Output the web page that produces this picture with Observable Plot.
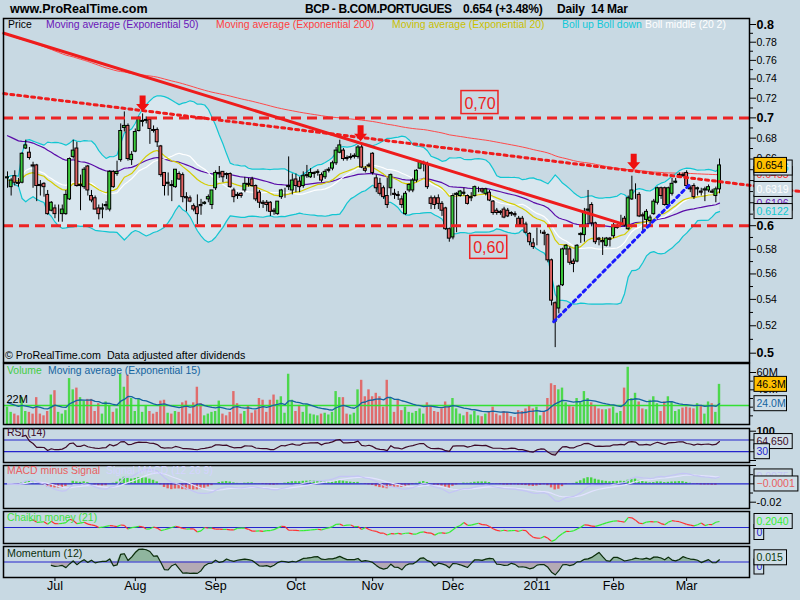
<!DOCTYPE html>
<html><head><meta charset="utf-8">
<script src="https://cdn.jsdelivr.net/npm/d3@7"></script>
<script src="https://cdn.jsdelivr.net/npm/@observablehq/plot@0.6"></script>
<style>
body{margin:0;background:#c8d9e3;}
#c{position:relative;width:800px;height:600px;overflow:hidden;background:#c8d9e3;font-family:"Liberation Sans",Arial,sans-serif;}
#c svg{position:absolute;left:0;overflow:visible;}
.t{position:absolute;white-space:pre;line-height:1;transform:translateY(-50%);z-index:5;}
</style></head><body><div id="c"></div>
<script>
// ---------- DATA ----------
const open = [
.642,.634,.644,.638,.638,.670,.666,.654,.654,.636,
.637,.627,.613,.615,.611,.610,.610,.623,.662,.670,
.635,.634,.653,.626,.624,.615,.614,.617,.614,.648,
.646,.659,.690,.692,.659,.667,.687,.696,.697,.698,
.688,.688,.672,.647,.637,.636,.634,.646,.645,.625,
.624,.617,.616,.618,.619,.623,.618,.633,.646,.648,
.646,.646,.631,.627,.628,.631,.637,.641,.635,.629,
.620,.620,.620,.613,.610,.625,.629,.634,.631,.641,
.639,.635,.644,.643,.646,.647,.645,.643,.649,.651,
.656,.666,.668,.661,.661,.662,.662,.671,.651,.654,
.665,.642,.637,.633,.626,.633,.628,.627,.623,.610,
.631,.631,.640,.651,.655,.655,.624,.624,.624,.619,
.615,.597,.590,.627,.626,.628,.626,.624,.626,.632,
.632,.628,.629,.621,.613,.612,.614,.613,.611,.610,
.606,.606,.601,.593,.585,.590,.594,.594,.592,.571,
.537,.533,.551,.580,.580,.570,.570,.592,.592,.613,
.618,.602,.589,.587,.583,.589,.591,.598,.603,.606,
.597,.623,.628,.627,.609,.605,.604,.610,.620,.633,
.633,.618,.628,.638,.644,.645,.647,.633,.635,.632,
.630,.631,.631,.630,.626,.632];
const high = [
.648,.642,.649,.642,.666,.678,.671,.657,.655,.640,
.638,.631,.621,.618,.618,.618,.631,.661,.678,.676,
.645,.652,.654,.631,.626,.618,.619,.621,.649,.649,
.658,.694,.706,.694,.667,.689,.701,.704,.701,.699,
.692,.690,.673,.647,.647,.640,.650,.648,.647,.629,
.626,.619,.627,.623,.621,.627,.631,.649,.653,.648,
.647,.647,.633,.629,.629,.643,.642,.643,.636,.631,
.622,.622,.621,.615,.621,.632,.633,.662,.646,.646,
.643,.648,.654,.651,.648,.650,.647,.650,.652,.658,
.671,.678,.670,.663,.665,.665,.673,.673,.653,.656,
.666,.645,.642,.635,.642,.646,.632,.630,.626,.630,
.637,.642,.650,.658,.658,.657,.626,.626,.627,.621,
.616,.598,.628,.629,.631,.633,.627,.629,.635,.634,
.633,.633,.631,.622,.615,.613,.616,.615,.612,.612,
.608,.608,.603,.594,.589,.598,.596,.596,.593,.572,
.538,.551,.581,.584,.582,.572,.584,.594,.615,.631,
.620,.603,.590,.590,.590,.590,.602,.601,.609,.608,
.626,.644,.637,.629,.611,.614,.609,.623,.634,.634,
.634,.634,.642,.642,.647,.647,.649,.635,.637,.634,
.633,.634,.636,.632,.634,.660];
const low = [
.633,.626,.635,.634,.637,.669,.659,.633,.621,.626,
.625,.609,.612,.606,.603,.603,.609,.622,.660,.634,
.613,.632,.626,.620,.614,.605,.606,.613,.612,.633,
.644,.657,.686,.658,.654,.666,.686,.691,.694,.674,
.685,.671,.643,.626,.626,.621,.633,.640,.620,.612,
.620,.612,.601,.609,.618,.620,.614,.631,.642,.638,
.641,.633,.620,.623,.624,.629,.634,.634,.621,.615,
.615,.612,.608,.609,.609,.623,.624,.631,.627,.629,
.629,.633,.642,.642,.642,.644,.638,.641,.647,.649,
.654,.665,.658,.658,.659,.660,.660,.651,.647,.652,
.645,.629,.626,.623,.615,.626,.623,.622,.615,.609,
.629,.629,.638,.650,.648,.632,.614,.614,.614,.608,
.596,.586,.588,.594,.625,.626,.618,.621,.625,.629,
.628,.626,.621,.609,.609,.609,.606,.607,.608,.607,
.599,.599,.593,.583,.580,.583,.593,.583,.569,.535,
.504,.529,.550,.575,.567,.561,.569,.585,.586,.600,
.599,.584,.583,.575,.582,.582,.589,.597,.599,.599,
.596,.622,.623,.607,.594,.598,.601,.609,.618,.623,
.617,.618,.626,.637,.643,.643,.634,.629,.623,.626,
.626,.621,.629,.628,.620,.628];
const close = [
.643,.640,.638,.637,.665,.673,.661,.653,.635,.635,
.634,.610,.620,.610,.611,.614,.627,.660,.668,.635,
.636,.650,.631,.622,.614,.610,.615,.618,.648,.634,
.648,.687,.692,.660,.664,.686,.700,.697,.698,.689,
.687,.676,.645,.635,.638,.635,.650,.641,.625,.624,
.621,.614,.610,.617,.620,.625,.631,.647,.647,.643,
.645,.634,.625,.626,.626,.637,.636,.635,.623,.620,
.619,.618,.612,.612,.621,.631,.629,.635,.640,.635,
.634,.644,.645,.647,.647,.648,.640,.648,.650,.656,
.668,.673,.660,.660,.662,.663,.671,.652,.649,.653,
.647,.633,.628,.625,.618,.645,.627,.626,.618,.628,
.636,.640,.649,.657,.656,.634,.619,.618,.619,.613,
.597,.589,.626,.628,.630,.629,.619,.625,.634,.632,
.630,.632,.622,.611,.611,.611,.607,.608,.610,.609,
.600,.600,.594,.586,.582,.590,.594,.593,.571,.539,
.523,.550,.580,.583,.569,.568,.583,.593,.612,.614,
.602,.586,.588,.586,.589,.588,.600,.599,.603,.600,
.624,.631,.628,.608,.608,.612,.607,.621,.633,.626,
.618,.633,.637,.639,.645,.644,.635,.632,.625,.633,
.629,.632,.634,.629,.632,.654];
// volume in millions of shares
const volumeM = [
20,14,12,10,31,15,14,12,31,12,
10,15,34,39,14,12,16,53,40,42,
31,27,29,29,15,24,12,26,22,14,
18,58,43,57,30,15,29,14,22,15,
12,14,27,28,13,12,15,14,25,27,
12,25,43,24,10,12,14,15,27,12,
10,14,38,24,12,15,21,13,16,30,
28,14,28,34,28,32,13,58,28,15,
22,14,23,12,11,10,12,13,11,14,
38,31,31,12,11,13,40,51,32,40,
32,36,32,20,51,31,14,29,16,20,
14,13,15,18,12,25,22,15,14,18,
26,22,30,18,12,10,14,11,15,10,
9,12,14,20,12,10,15,14,9,8,
16,15,18,22,18,20,10,14,30,47,
45,40,42,25,22,20,30,25,38,30,
25,22,18,17,17,18,20,13,15,42,
66,30,36,26,18,17,28,32,24,15,
26,32,26,15,17,19,20,19,18,24,
22,12,26,24,14,46.3];
const monthLabels = ["Jul","Aug","Sep","Oct","Nov","Dec","2011","Feb","Mar"];
const monthStartIdx = [13,35,57,79,100,122,145,166,186];
const priceTicks = [0.52,0.54,0.56,0.58,0.62,0.64,0.66,0.68,0.72,0.74,0.76,0.78];
const priceLabelTicks = [0.52,0.54,0.56,0.58,0.66,0.68,0.72,0.74,0.76,0.78];
const priceTickLabels = ["0.52","0.54","0.56","0.58","0.66","0.68","0.72","0.74","0.76","0.78"];
const priceMajorTicks = [0.5,0.6,0.7,0.8];
const priceMajorLabels = ["0.5","0.6","0.7","0.8"];
const priceMinorTicks = [0.51,0.53,0.55,0.57,0.59,0.61,0.63,0.65,0.67,0.69,0.71,0.73,0.75,0.77,0.79];
const levels = [0.6, 0.7];
const levelBoxes = [{i:129.4, p:0.7155, s:"0,70"}, {i:131.8, p:0.5817, s:"0,60"}];
const arrows = [{i:37, p:0.7064}, {i:96.7, p:0.677}, {i:171.5, p:0.650}];
const trendDown = [{i:-1, p:0.790}, {i:168.4, p:0.6016}];
const trendDotRed = [{i:-1, p:0.7248}, {i:217.2, p:0.630}];
const trendDotBlue = [{i:149.6, p:0.523}, {i:186.8, p:0.6363}];
// indicator starting levels read at the left edge
const seedEma20 = 0.640, seedEma50 = 0.684, seedEma200 = 0.790, seedVolEma = 26;
const volumeLevel = [22];

// ---------- INDICATORS ----------
const N = close.length, LAST = N - 1;
const bars = close.map((c, i) => ({i, o: open[i], h: high[i], l: low[i], c, v: volumeM[i], up: c >= open[i]}));
function ema(a, n, seed) { const k = 2 / (n + 1); let e = seed; return a.map(v => (e = e + k * (v - e))); }
const ema20 = ema(close, 20, seedEma20), ema50 = ema(close, 50, seedEma50), ema200 = ema(close, 200, seedEma200);
const bbMid = [], bbUp = [], bbLo = [];
for (let i = 0; i < N; i++) {
  const w = close.slice(Math.max(0, i - 19), i + 1), m = d3.mean(w), sd = Math.sqrt(d3.mean(w, v => (v - m) ** 2));
  bbMid.push(m); bbUp.push(m + 2 * sd); bbLo.push(m - 2 * sd);
}
const volEma = ema(volumeM, 15, seedVolEma);
const rsi = [50]; { let ag = 0, al = 0;
  for (let i = 1; i < N; i++) { const ch = close[i] - close[i - 1], g = Math.max(ch, 0), l = Math.max(-ch, 0);
    if (i <= 14) { ag = (ag * (i - 1) + g) / i; al = (al * (i - 1) + l) / i; } else { ag = (ag * 13 + g) / 14; al = (al * 13 + l) / 14; }
    rsi.push(al === 0 ? 100 : 100 - 100 / (1 + ag / al)); } }
const e12 = ema(close, 12, close[0]), e26 = ema(close, 26, close[0]);
const macd = e12.map((v, i) => v - e26[i]);
const signal = ema(macd, 9, 0);
const hist = macd.map((v, i) => v - signal[i]);
const mfv = bars.map(d => d.h > d.l ? ((d.c - d.l) - (d.h - d.c)) / (d.h - d.l) * d.v : 0);
const cmf = bars.map((d, i) => d3.sum(mfv.slice(Math.max(0, i - 20), i + 1)) / d3.sum(volumeM.slice(Math.max(0, i - 20), i + 1)));
const mom = bars.map((d, i) => i >= 12 ? close[i] - close[i - 12] : null);

const rsiD = bars.filter(d => d.i >= 4).map(d => ({i: d.i, r: rsi[d.i]}));
const cmfD = bars.filter(d => d.i >= 6).map(d => ({i: d.i, m: cmf[d.i]}));
const cmfSeg = cmfD.slice(1).map((d, k) => ({x1: cmfD[k].i, y1: cmfD[k].m, x2: d.i, y2: d.m, col: d.m >= cmfD[k].m ? "#33ee33" : "#ff3030"}));
const momD = bars.filter(d => d.i >= 12).map(d => ({i: d.i, m: mom[d.i]}));
const cmfMax = d3.max(cmfD, d => Math.abs(d.m)) * 1.08;
const momMax = d3.max(momD, d => Math.abs(d.m)) * 1.05;

// ---------- LAYOUT ----------
const root = document.getElementById("c");
const FONT = "Liberation Sans, Arial, sans-serif";
const GREEN = "#3ccc3c", RED = "#e06262", BLUE = "#2424cc", BOXFILL = "#cfdee7";
const blank = () => "";
function panel(top, height, y, marks, mb = 1) {
  const svg = Plot.plot({
    width: 800, height, marginLeft: 3, marginRight: 51, marginTop: 1, marginBottom: mb,
    x: {domain: [0, LAST], range: [7, 719], axis: null},
    y: {...y, axis: null}, color: {type: "identity"},
    style: {background: "none", fontFamily: FONT, fontSize: "10px", overflow: "visible"},
    marks: [...marks, Plot.frame({stroke: "black", strokeWidth: 1.5})]
  });
  svg.style.top = top + "px";
  root.append(svg);
}
function box(v, s, color, fill = BOXFILL, dy = 0) {
  const w = s.length * 5.7 + 4;
  return [
    Plot.rect([v], {x1: () => LAST, x2: () => LAST, y1: d => d, y2: d => d, insetLeft: 35, insetRight: -(35 + w), insetTop: -7.5, insetBottom: -7.5, dy, fill, stroke: "black", strokeWidth: 1}),
    Plot.text([v], {x: () => LAST, y: d => d, dx: 37, dy, text: () => s, textAnchor: "start", fill: color, fontSize: 10.5})
  ];
}
const f4 = d3.format(".4f");
const arrowSymbol = {draw(ctx) { ctx.moveTo(0, 0); ctx.lineTo(-6.5, -7.5); ctx.lineTo(-3, -7.5); ctx.lineTo(-3, -16); ctx.lineTo(3, -16); ctx.lineTo(3, -7.5); ctx.lineTo(6.5, -7.5); ctx.closePath(); }};

// main price panel
panel(17, 346, {type: "log", domain: [0.5, 0.8], range: [335.7, 7]}, [
  Plot.areaY(bars, {x: "i", y1: d => bbLo[d.i], y2: d => bbUp[d.i], fill: "#d8e6ee"}),
  Plot.line(bars, {x: "i", y: d => ema200[d.i], stroke: "#ff4a4a", strokeWidth: 1}),
  Plot.line(bars, {x: "i", y: d => bbUp[d.i], stroke: "#12c6d2", strokeWidth: 1.2}),
  Plot.line(bars, {x: "i", y: d => bbLo[d.i], stroke: "#12c6d2", strokeWidth: 1.2}),
  Plot.line(bars, {x: "i", y: d => ema50[d.i], stroke: "#5a0ca8", strokeWidth: 1.2}),
  Plot.line(bars, {x: "i", y: d => bbMid[d.i], stroke: "white", strokeWidth: 1.2}),
  Plot.line(bars, {x: "i", y: d => ema20[d.i], stroke: "#d4cc00", strokeWidth: 1.2}),
  Plot.ruleX(bars, {x: "i", y1: "l", y2: "h", stroke: "black", strokeWidth: 1}),
  Plot.rect(bars, {x1: d => d.i - 0.4, x2: d => d.i + 0.4, y1: "o", y2: "c", fill: d => d.up ? GREEN : RED, stroke: "black", strokeWidth: 1}),
  Plot.ruleY(levels, {stroke: "#ec2424", strokeWidth: 3, strokeDasharray: "10,6"}),
  Plot.line(trendDown, {x: "i", y: "p", stroke: "#ee1c1c", strokeWidth: 3}),
  Plot.line(trendDotRed, {x: "i", y: "p", stroke: "#ee1c1c", strokeWidth: 3, strokeDasharray: "3,4"}),
  Plot.line(trendDotBlue, {x: "i", y: "p", stroke: "#1a1aff", strokeWidth: 3, strokeDasharray: "3,4"}),
  Plot.dot(arrows, {x: "i", y: "p", symbol: arrowSymbol, fill: "#ee1111", stroke: "none"}),
  Plot.rect(levelBoxes, {x1: "i", x2: "i", y1: "p", y2: "p", insetLeft: -18.5, insetRight: -18.5, insetTop: -11.5, insetBottom: -11.5, fill: "none", stroke: "#ee2222", strokeWidth: 1.5}),
  Plot.text(levelBoxes, {x: "i", y: "p", text: "s", fill: "#ee2222", fontSize: 16, dy: 1}),
  Plot.axisY({anchor: "right", ticks: priceMinorTicks, tickSize: 3, tickFormat: blank, label: null}),
  Plot.axisY({anchor: "right", ticks: [...priceTicks, ...priceMajorTicks], tickSize: 6, tickFormat: blank, label: null}),
  Plot.text(priceLabelTicks, {y: d => d, frameAnchor: "right", dx: 7, textAnchor: "start", text: (d, k) => priceTickLabels[k], fontSize: 10.5, fill: "black"}),
  Plot.text(priceMajorTicks, {y: d => d, frameAnchor: "right", dx: 7, textAnchor: "start", text: (d, k) => priceMajorLabels[k], fontSize: 12.5, fontWeight: "bold", fill: "black"}),
  ...box(ema200[LAST], f4(ema200[LAST]), "#ff3030"),
  ...box(bbUp[LAST], f4(bbUp[LAST]), "#10c8d0"),
  ...box(ema50[LAST], f4(ema50[LAST]), "#6a14b8"),
  ...box(bbLo[LAST], f4(bbLo[LAST]), "#10c8d0"),
  ...box(bbMid[LAST], f4(bbMid[LAST]), "white"),
  ...box(close[LAST], String(close[LAST]), "black", "#ffc000")
]);

// volume panel
panel(362, 64, {domain: [0, 60], range: [62, 10]}, [
  Plot.rectY(bars, {x1: d => d.i - 0.33, x2: d => d.i + 0.33, y: "v", fill: d => d.up ? "#4cd84c" : "#e06c6c"}),
  Plot.ruleY(volumeLevel, {stroke: "#33e033", strokeWidth: 1.5}),
  Plot.line(bars, {x: "i", y: d => volEma[d.i], stroke: "#1464a0", strokeWidth: 1.3}),
  Plot.text(volumeLevel, {y: d => d, frameAnchor: "left", dx: 3, dy: -6, text: d => d + "M", textAnchor: "start", fill: "black", fontSize: 11}),
  Plot.axisY({anchor: "right", ticks: [10, 20, 30, 50], tickSize: 3, tickFormat: blank, label: null}),
  Plot.axisY({anchor: "right", ticks: [40, 60], tickSize: 6, tickPadding: 1, tickFormat: d => d + "M", fontSize: 11, label: null}),
  ...box(volEma[LAST], d3.format(".1f")(volEma[LAST]) + "M", "#1464a0"),
  ...box(volumeM[LAST], d3.format(".1f")(volumeM[LAST]) + "M", "black", "#ffc000")
], 2);

// RSI panel
panel(427, 36, {domain: [0, 100], range: [33, 3.7]}, [
  Plot.ruleY([30, 70], {stroke: BLUE, strokeWidth: 1.2}),
  Plot.areaY(rsiD, {x: "i", y1: () => 30, y2: d => Math.min(30, d.r), fill: "#9a9aa8"}),
  Plot.line(rsiD, {x: "i", y: "r", stroke: "#3c0a28", strokeWidth: 1.2}),
  Plot.axisY({anchor: "right", ticks: [0, 30, 70, 100], tickSize: 6, tickPadding: 1, tickFormat: d => d === 100 ? String(d) : "", fontSize: 11, fontWeight: "bold", label: null}),
  ...box(rsi[LAST], d3.format(".3f")(rsi[LAST]), "#3c0a28"),
  ...box(30, "30", BLUE)
]);

// MACD panel
panel(464, 45, {domain: [-0.02, 0.02], range: [37.7, 1]}, [
  Plot.rectY(bars, {x1: d => d.i - 0.33, x2: d => d.i + 0.33, y: d => hist[d.i], fill: d => hist[d.i] >= 0 ? "#44d444" : "#e86060"}),
  Plot.ruleY([0], {stroke: BLUE, strokeWidth: 1.2}),
  Plot.line(bars, {x: "i", y: d => signal[d.i], stroke: "#e2e2ff", strokeWidth: 1.2}),
  Plot.line(bars, {x: "i", y: d => macd[d.i], stroke: "#c4c4f6", strokeWidth: 1.2}),
  Plot.axisY({anchor: "right", ticks: [-0.01, 0.01], tickSize: 3, tickFormat: blank, label: null}),
  Plot.axisY({anchor: "right", ticks: [-0.02, 0, 0.02], tickSize: 6, tickPadding: 1, tickFormat: d => d === -0.02 ? "-0.02" : "", fontSize: 11, label: null}),
  ...box(macd[LAST], f4(macd[LAST]), "#c4c4f6"),
  ...box(hist[LAST], f4(hist[LAST]), "#e86060")
]);

// Chaikin money flow panel
panel(510, 34, {domain: [-cmfMax, cmfMax], range: [32, 2]}, [
  Plot.ruleY([0], {stroke: BLUE, strokeWidth: 1.2}),
  Plot.link(cmfSeg, {x1: "x1", y1: "y1", x2: "x2", y2: "y2", stroke: "col", strokeWidth: 1.2}),
  ...box(0, "0", BLUE, BOXFILL, 5),
  ...box(cmf[LAST], f4(cmf[LAST]), "#33ee33")
]);

// Momentum panel + date axis
panel(545, 55, {domain: [-momMax, momMax], range: [30, 3]}, [
  Plot.areaY(momD, {x: "i", y: d => Math.max(0, d.m), fill: "#8fb59e"}),
  Plot.areaY(momD, {x: "i", y: d => Math.min(0, d.m), fill: "#b4aab4"}),
  Plot.ruleY([0], {stroke: BLUE, strokeWidth: 1.2}),
  Plot.line(momD, {x: "i", y: "m", stroke: "#0c2c0c", strokeWidth: 1.2}),
  ...box(0, "0", BLUE, BOXFILL, 5),
  ...box(mom[LAST], d3.format(".3f")(mom[LAST]), "#0c3c0c", BOXFILL, -2),
  Plot.axisX({ticks: monthStartIdx, tickSize: 4, tickFormat: blank, label: null}),
  Plot.text(monthStartIdx, {x: d => d, frameAnchor: "bottom", dy: 12, text: (d, k) => monthLabels[k], fontSize: 12.5, fill: "black", fontWeight: (d, k) => monthLabels[k] === "2011" ? "bold" : "normal"})
], 23);

// ---------- TEXT ----------
function label(x, y, s, color, size = 10.4, weight = "normal", spacing = 0) {
  const d = document.createElement("div");
  d.className = "t"; d.textContent = s;
  Object.assign(d.style, {left: x + "px", top: y + "px", color, fontSize: size + "px", fontWeight: weight, letterSpacing: spacing + "px"});
  root.append(d);
}
label(10, 9, "www.ProRealTime.com", "black", 12.5, "bold");
label(305, 9, "BCP - B.COM.PORTUGUES", "black", 12, "bold", -0.4);
label(463, 9, "0.654 (+3.48%)", "black", 12, "bold", -0.2);
label(557, 9, "Daily  14 Mar", "black", 12, "bold", -0.2);
label(8, 25, "Price", "black");
label(46, 25, "Moving average (Exponential 50)", "#6a14b8");
label(216, 25, "Moving average (Exponential 200)", "#ff4040");
label(392, 25, "Moving average (Exponential 20)", "#c8c000");
label(562, 25, "Boll up Boll down", "#10c8d8");
label(645, 25, "Boll middle (20 2)", "white");
label(5, 355, "© ProRealTime.com  Data adjusted after dividends", "black", 10.7);
label(7, 371, "Volume", "#44cc44");
label(48, 371, "Moving average (Exponential 15)", "#1464a0");
label(7, 433, "RSI (14)", "#3c0a28");
label(7, 471, "MACD minus Signal", "#e86060");
label(106, 471, "Signal MACD (12 26 9)", "#d4d4ff");
label(7, 518, "Chaikin money (21)", "#40e040");
label(7, 553, "Momentum (12)", "#0c300c", 10.7);
</script></body></html>
